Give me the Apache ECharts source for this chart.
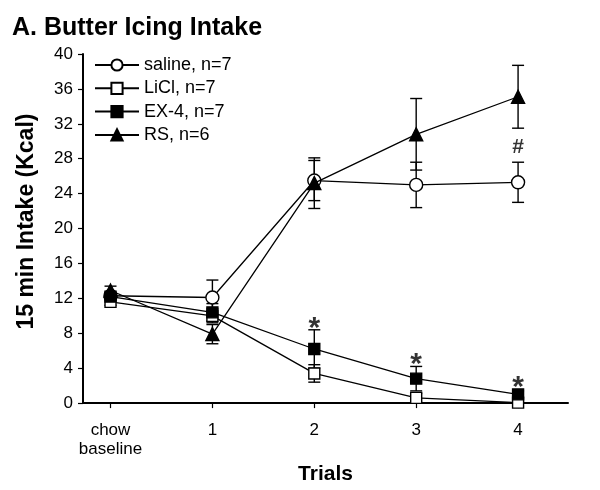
<!DOCTYPE html>
<html><head><meta charset="utf-8">
<script src="https://cdn.jsdelivr.net/npm/echarts@6/dist/echarts.min.js"></script>
<style>html,body{margin:0;padding:0;background:#fff}#c{width:600px;height:490px}</style>
</head><body><div id="c"></div>
<script>
const trialPos = [0, 1, 2, 3, 4];
const trialLabels = ['chow\nbaseline', '1', '2', '3', '4'];
const yTicks = [0, 4, 8, 12, 16, 20, 24, 28, 32, 36, 40];

const salineMean = [12.3, 12.1, 25.5, 25.0, 25.3];
const salineErr  = [0.4, 2.0, 2.3, 2.6, 2.3];
const liclMean   = [11.6, 10.0, 3.4, 0.6, 0.05];
const liclErr    = [0.4, 0.8, 1.0, 0.5, 0.1];
const ex4Mean    = [12.2, 10.4, 6.2, 2.8, 1.0];
const ex4Err     = [0.4, 1.0, 2.2, 1.4, 0.4];
const rsMean     = [12.9, 7.9, 25.2, 30.8, 35.1];
const rsErr      = [0.5, 1.1, 2.9, 4.1, 3.6];

const starPos = [2, 3, 4];
const starVal = [9.3, 5.2, 2.6];
const hashPos = [4];
const hashVal = [29.3];

const names = ['saline, n=7', 'LiCl, n=7', 'EX-4, n=7', 'RS, n=6'];
const means = [salineMean, liclMean, ex4Mean, rsMean];
const errs = [salineErr, liclErr, ex4Err, rsErr];
const symbols = ['circle', 'rect', 'rect', 'triangle'];
const sizes = [13, 11, 11, 13];
const fills = ['#fff', '#fff', '#000', '#000'];

const chart = echarts.init(document.getElementById('c'));
const series = [];
const errData = [];
means.forEach((m, s) => m.forEach((v, i) => errData.push([trialPos[i], v, errs[s][i]])));
series.push({
  type: 'custom', z: 1, silent: true,
  data: errData,
  encode: {x: 0, y: 1},
  renderItem: function (params, api) {
    const x = api.value(0), y = api.value(1), e = api.value(2);
    const top = api.coord([x, y + e]);
    const bot = api.coord([x, y - e]);
    const w = 6;
    const st = {stroke: '#000', lineWidth: 1.4};
    return {type: 'group', children: [
      {type: 'line', shape: {x1: top[0], y1: top[1], x2: bot[0], y2: bot[1]}, style: st},
      {type: 'line', shape: {x1: top[0] - w, y1: top[1], x2: top[0] + w, y2: top[1]}, style: st},
      {type: 'line', shape: {x1: bot[0] - w, y1: bot[1], x2: bot[0] + w, y2: bot[1]}, style: st}
    ]};
  }
});
names.forEach((n, s) => {
  series.push({
    name: n, type: 'line', z: 3 + s,
    data: means[s].map((v, i) => [trialPos[i], v]),
    symbol: symbols[s], symbolSize: sizes[s], showSymbol: true,
    lineStyle: {color: '#000', width: 1.3},
    itemStyle: {color: fills[s], borderColor: '#000', borderWidth: 1.4},
    emphasis: {disabled: true}
  });
});
series.push({
  type: 'scatter', z: 10, symbolSize: 0, silent: true,
  data: starPos.map((p, i) => [p, starVal[i]]),
  label: {show: true, position: 'inside', formatter: '*', fontSize: 30, fontWeight: 'bold', color: '#000', fontFamily: 'Arial', offset: [0, 7]}
});
series.push({
  type: 'scatter', z: 10, symbolSize: 0, silent: true,
  data: hashPos.map((p, i) => [p, hashVal[i]]),
  label: {show: true, position: 'inside', formatter: '#', fontSize: 21, fontWeight: 'bold', color: '#000', fontFamily: 'Arial'}
});

chart.setOption({
  animation: false,
  textStyle: {fontFamily: 'Arial, Liberation Sans', color: '#000'},
  title: {text: 'A. Butter Icing Intake', left: 7, top: 11,
    textStyle: {fontSize: 25, fontWeight: 'bold', color: '#000', fontFamily: 'Arial'}},
  legend: {
    data: names, orient: 'vertical', left: 89, top: 51,
    itemWidth: 44, itemHeight: 14, itemGap: 5.3,
    textStyle: {fontSize: 18, lineHeight: 18, color: '#000', fontFamily: 'Arial'}
  },
  grid: {left: 83, right: 32, top: 54, bottom: 85},
  xAxis: {
    type: 'value', min: -0.27, max: 4.49,
    name: 'Trials', nameLocation: 'middle', nameGap: 52,
    nameTextStyle: {fontSize: 21, fontWeight: 'bold', color: '#000', fontFamily: 'Arial'},
    axisLine: {onZero: false, lineStyle: {color: '#000', width: 2}},
    axisTick: {show: true, customValues: trialPos, length: 5, inside: false, lineStyle: {color: '#000', width: 1.2}},
    axisLabel: {customValues: trialPos, formatter: v => trialLabels[trialPos.indexOf(v)],
      fontSize: 17, color: '#000', margin: 18, lineHeight: 19, fontFamily: 'Arial'},
    splitLine: {show: false}
  },
  yAxis: {
    type: 'value', min: 0, max: 40, interval: 4,
    name: '15 min Intake (Kcal)', nameLocation: 'middle', nameGap: 45, nameRotate: 90,
    nameTextStyle: {fontSize: 23, fontWeight: 'bold', color: '#000', fontFamily: 'Arial', padding: [0, 0, 0, 14]},
    axisLine: {show: true, onZero: false, lineStyle: {color: '#000', width: 2}},
    axisTick: {show: true, length: 5, lineStyle: {color: '#000', width: 1.2}},
    axisLabel: {fontSize: 17, color: '#000', margin: 10, fontFamily: 'Arial'},
    splitLine: {show: false}
  },
  series: series
});
</script></body></html>
